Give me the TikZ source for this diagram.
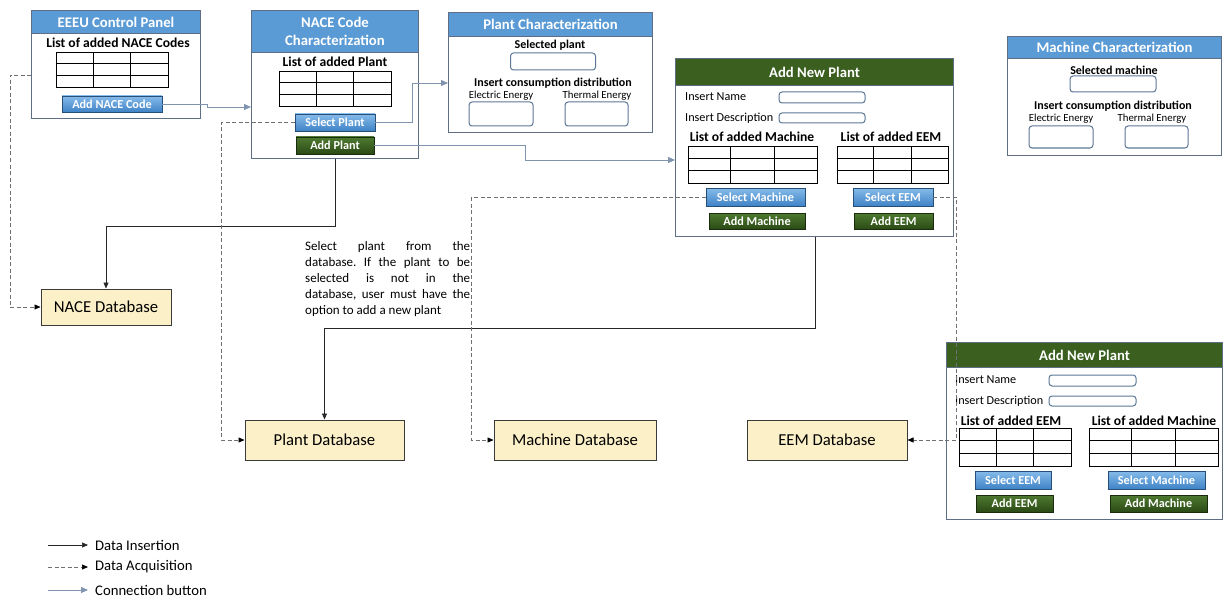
\documentclass[tikz,border=0pt]{standalone}
\usepackage{fontspec}
\setmainfont{Carlito}
\usepackage{xcolor}
\definecolor{panelborder}{HTML}{5E6E85}
\definecolor{headblue}{HTML}{5B9BD5}
\definecolor{headgreen}{HTML}{3A5F1F}
\definecolor{btnbluetop}{HTML}{86BBEA}
\definecolor{btnbluebot}{HTML}{3F83C6}
\definecolor{btngreentop}{HTML}{4E7A30}
\definecolor{btngreenbot}{HTML}{2B4A15}
\definecolor{fieldborder}{HTML}{5C7896}
\definecolor{dbfill}{HTML}{FCF0C8}
\definecolor{dbborder}{HTML}{3A3A3A}
\definecolor{linkcolor}{HTML}{8094B0}
\definecolor{acqcolor}{HTML}{707070}
\usepackage{tikz}
\usetikzlibrary{positioning,arrows.meta,calc}
\tikzset{
    panel/.style={
        rectangle,
        draw=panelborder,
        fill=white,
        line width=1pt,
        anchor=north west,
        inner sep=0pt,
    },
    bluehead/.style={
        rectangle,
        draw=panelborder,
        fill=headblue,
        text=white,
        line width=1pt,
        anchor=north west,
        inner sep=0pt,
        align=center,
        font=\fontsize{14.7}{18}\selectfont\bfseries,
    },
    greenhead/.style={
        bluehead,
        fill=headgreen,
    },
    listtitle/.style={
        inner sep=0pt,
        font=\fontsize{13.6}{15}\selectfont\bfseries,
    },
    smalltitle/.style={
        inner sep=0pt,
        font=\fontsize{12}{14}\selectfont\bfseries,
    },
    fieldlabel/.style={
        inner sep=0pt,
        anchor=west,
        font=\fontsize{12.2}{14}\selectfont,
    },
    energylabel/.style={
        inner sep=0pt,
        font=\fontsize{10.8}{12}\selectfont,
    },
    listbox/.style={
        rectangle,
        draw=black,
        line width=0.8pt,
        inner sep=0pt,
    },
    field/.style={
        rectangle,
        draw=fieldborder,
        fill=white,
        rounded corners=3pt,
        line width=1pt,
        inner sep=0pt,
    },
    bluebtn/.style={
        rectangle,
        draw=btnbluebot!60!black,
        top color=btnbluetop,
        bottom color=btnbluebot,
        text=white,
        inner sep=0pt,
        line width=0.8pt,
        font=\fontsize{12.2}{14}\selectfont\bfseries,
    },
    greenbtn/.style={
        bluebtn,
        draw=btngreenbot!60!black,
        top color=btngreentop,
        bottom color=btngreenbot,
    },
    database/.style={
        rectangle,
        draw=dbborder,
        fill=dbfill,
        line width=1pt,
        inner sep=0pt,
        minimum height=40pt,
        font=\fontsize{16.7}{19}\selectfont,
    },
    insert/.style={
        -{Triangle[length=6pt,width=5pt]},
        line width=0.7pt,
        black!85,
    },
    acquire/.style={
        -{Triangle[length=6pt,width=5pt,black]},
        line width=0.7pt,
        acqcolor,
        dash pattern=on 4pt off 2.5pt,
    },
    link/.style={
        -{Triangle[length=7pt,width=6pt]},
        line width=0.9pt,
        linkcolor,
    },
    legendtext/.style={
        anchor=west,
        inner sep=0pt,
        font=\fontsize{14.7}{17}\selectfont,
    },
}
% 3x3 grid inside a list box
\newcommand{\listgrid}[1]{%
    \foreach \f in {1,2} {
        \draw[line width=0.8pt] ($(#1.south west)!\f/3!(#1.north west)$) -- ($(#1.south east)!\f/3!(#1.north east)$);
        \draw[line width=0.8pt] ($(#1.south west)!\f/3!(#1.south east)$) -- ($(#1.north west)!\f/3!(#1.north east)$);
    }%
}

\begin{document}
\begin{tikzpicture}[x=1pt, y=-1pt]
    \useasboundingbox (0,0) rectangle (1223,599);

    % EEEU control panel
    \node[panel, minimum width=169pt, minimum height=108pt] (ctrl) at (31,10) {};
    \node[bluehead, minimum width=169pt, minimum height=23pt] (ctrlhead) at (ctrl.north west) {EEEU Control Panel};
    \node[listtitle] (ctrllist) at (118,43) {List of added NACE Codes};
    \node[listbox, minimum width=112pt, minimum height=35pt] (ctrltab) at (112,69.5) {};
    \listgrid{ctrltab}
    \node[bluebtn, minimum width=100pt, minimum height=16pt] (addnace) at (112,104) {Add NACE Code};

    % NACE code characterization
    \node[panel, minimum width=167pt, minimum height=148pt] (nacechar) at (251,10) {};
    \node[bluehead, minimum width=167pt, minimum height=42pt] (nacehead) at (nacechar.north west) {NACE Code\\Characterization};
    \node[listtitle] (nacelist) at (335,62) {List of added Plant};
    \node[listbox, minimum width=112pt, minimum height=35pt] (nacetab) at (335,88.5) {};
    \listgrid{nacetab}
    \node[bluebtn, minimum width=80pt, minimum height=17pt] (selplant) at (335,122.5) {Select Plant};
    \node[greenbtn, minimum width=78pt, minimum height=17pt] (addplant) at (335,145.5) {Add Plant};

    % plant characterization
    \node[panel, minimum width=204pt, minimum height=120pt] (plantchar) at (448,12) {};
    \node[bluehead, minimum width=204pt, minimum height=24pt] (planthead) at (plantchar.north west) {Plant Characterization};
    \node[smalltitle] (plantsel) at (550,45) {Selected plant};
    \node[field, minimum width=85pt, minimum height=17pt] (plantfield) at (553,61.5) {};
    \node[smalltitle] (plantcons) at (553,83) {Insert consumption distribution};
    \node[energylabel] (plantelec) at (501,96) {Electric Energy};
    \node[energylabel] (plantther) at (597,96) {Thermal Energy};
    \node[field, minimum width=64pt, minimum height=24pt] (plantelecbox) at (501,114) {};
    \node[field, minimum width=63pt, minimum height=24pt] (plantherbox) at (596.5,114) {};

    % add new plant
    \node[panel, minimum width=278pt, minimum height=178pt] (newplant) at (675,58) {};
    \node[greenhead, minimum width=278pt, minimum height=27pt] (newhead) at (newplant.north west) {Add New Plant};
    \node[fieldlabel] (newname) at (685,97) {Insert Name};
    \node[field, minimum width=86pt, minimum height=11pt] (newnamebox) at (822,97.5) {};
    \node[fieldlabel] (newdesc) at (685,118) {Insert Description};
    \node[field, minimum width=86pt, minimum height=10pt] (newdescbox) at (822,118) {};
    \node[listtitle] (newmachlist) at (752,137) {List of added Machine};
    \node[listbox, minimum width=129pt, minimum height=37pt] (newmachtab) at (752.5,164.5) {};
    \listgrid{newmachtab}
    \node[listtitle] (neweemlist) at (891,137) {List of added EEM};
    \node[listbox, minimum width=111pt, minimum height=37pt] (neweemtab) at (892.5,164.5) {};
    \listgrid{neweemtab}
    \node[bluebtn, minimum width=99pt, minimum height=18pt] (selmach) at (755.5,197) {Select Machine};
    \node[greenbtn, minimum width=96pt, minimum height=16pt] (addmach) at (757,221) {Add Machine};
    \node[bluebtn, minimum width=80pt, minimum height=18pt] (seleem) at (893,197) {Select EEM};
    \node[greenbtn, minimum width=79pt, minimum height=16pt] (addeem) at (893.5,221) {Add EEM};

    % machine characterization
    \node[panel, minimum width=214pt, minimum height=119pt] (machchar) at (1007,36) {};
    \node[bluehead, minimum width=214pt, minimum height=22pt] (machhead) at (machchar.north west) {Machine Characterization};
    \node[smalltitle] (machsel) at (1114,70) {Selected machine};
    \node[field, minimum width=86pt, minimum height=16pt] (machfield) at (1113,84) {};
    \node[smalltitle] (machcons) at (1113,106) {Insert consumption distribution};
    \node[energylabel] (machelec) at (1061,119) {Electric Energy};
    \node[energylabel] (machther) at (1152,119) {Thermal Energy};
    \node[field, minimum width=64pt, minimum height=22pt] (machelecbox) at (1061,137) {};
    \node[field, minimum width=63pt, minimum height=22pt] (mactherbox) at (1156.5,137) {};

    % add new plant (second view)
    \node[panel, minimum width=276pt, minimum height=177pt] (newplanttwo) at (946,342) {};
    \node[greenhead, minimum width=276pt, minimum height=25pt] (newheadtwo) at (newplanttwo.north west) {Add New Plant};
    \node[fieldlabel] (namettwo) at (955,380) {Insert Name};
    \node[field, minimum width=87pt, minimum height=11pt] (nametwobox) at (1092.5,380.5) {};
    \node[fieldlabel] (desctwo) at (955,401) {Insert Description};
    \node[field, minimum width=87pt, minimum height=10pt] (desctwobox) at (1092.5,401) {};
    \node[listtitle] (eemlisttwo) at (1011,421) {List of added EEM};
    \node[listbox, minimum width=112pt, minimum height=38pt] (eemtabtwo) at (1015,447) {};
    \listgrid{eemtabtwo}
    \node[listtitle] (machlisttwo) at (1154,421) {List of added Machine};
    \node[listbox, minimum width=129pt, minimum height=38pt] (machtabtwo) at (1153.5,447) {};
    \listgrid{machtabtwo}
    \node[bluebtn, minimum width=76pt, minimum height=18pt] (seleemtwo) at (1013,480) {Select EEM};
    \node[greenbtn, minimum width=77pt, minimum height=17pt] (addeemtwo) at (1014.5,503.5) {Add EEM};
    \node[bluebtn, minimum width=97pt, minimum height=18pt] (selmachtwo) at (1156.5,480) {Select Machine};
    \node[greenbtn, minimum width=97pt, minimum height=17pt] (addmachtwo) at (1158.5,503.5) {Add Machine};

    % databases
    \node[database, minimum width=130pt, minimum height=36pt] (nacedb) at (106,307) {NACE Database};
    \node[database, minimum width=159pt] (plantdb) at (324.5,440) {Plant Database};
    \node[database, minimum width=162pt] (machdb) at (575,440) {Machine Database};
    \node[database, minimum width=160pt] (eemdb) at (827,440) {EEM Database};

    % note
    \node[anchor=north west, inner sep=0pt, align=left, font=\fontsize{13}{16}\selectfont\frenchspacing] (note) at (305,241)
        {\makebox[165pt][s]{Select plant from the}\\
         \makebox[165pt][s]{database. If the plant to be}\\
         \makebox[165pt][s]{selected is not in the}\\
         \makebox[165pt][s]{database, user must have the}\\
         option to add a new plant};

    % connectors
    \draw[acquire] ([yshift=-65pt]ctrl.north west) -- ++(-21,0) |- (nacedb.west);
    \draw[link] (addnace.east) -- ++(45,0) |- (nacechar.west |- 0,107);
    \draw[insert] (nacechar.south) -- ++(0,67) -| (nacedb.north);
    \draw[link] (selplant.east) -- ++(37,0) |- (plantchar.west |- 0,83);
    \draw[link] (addplant.east) -- ++(151,0) |- (newplant.west |- 0,160);
    \draw[acquire] (selplant.west) -- ++(-73,0) |- (plantdb.west);
    \draw[insert] (newplant.south -| 815,0) -- ++(0,91) -| (plantdb.north);
    \draw[acquire] (selmach.west) -- ++(-234,0) |- (machdb.west);
    \draw[acquire] (seleem.east) -- ++(23,0) |- (eemdb.east);

    % legend
    \coordinate (leginsert) at (48,545);
    \coordinate (legacquire) at (48,567);
    \coordinate (leglink) at (48,590);
    \node[legendtext] (legone) at (95,545) {Data Insertion};
    \node[legendtext] (legtwo) at (95,567) {Data Acquisition};
    \node[legendtext] (legthree) at (95,590) {Connection button};
    \draw[insert] (leginsert) -- ([xshift=-7pt]legone.west);
    \draw[acquire] (legacquire) -- ([xshift=-7pt]legtwo.west);
    \draw[link] (leglink) -- ([xshift=-7pt]legthree.west);
\end{tikzpicture}
\end{document}
